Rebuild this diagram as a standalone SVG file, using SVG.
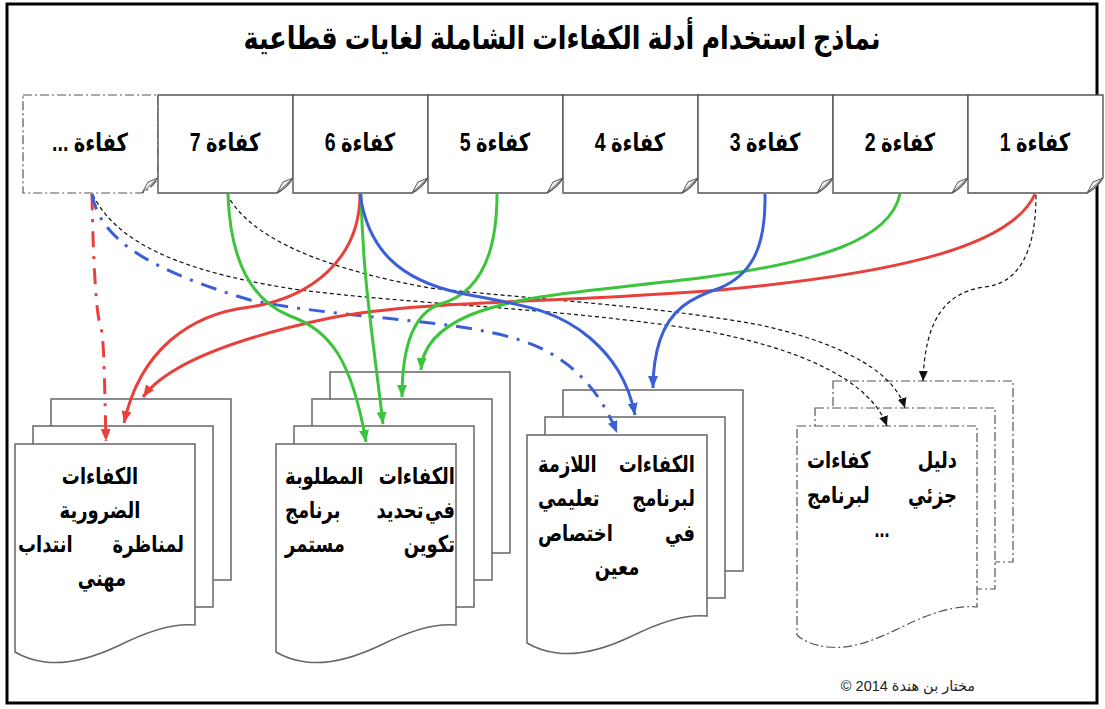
<svg xmlns="http://www.w3.org/2000/svg" width="1105" height="709" viewBox="0 0 1105 709">
<style>
.ar{font-family:"Liberation Sans","DejaVu Sans",sans-serif;font-weight:bold;fill:#000}
.rtl{direction:rtl;unicode-bidi:embed}
.card{fill:#fff;stroke:#555;stroke-width:1.4}
.cardd{fill:#fff;stroke:#555;stroke-width:1.2;stroke-dasharray:9 3 2 3}
.flap{fill:#f2f2f2;stroke:#555;stroke-width:1}
.page{fill:#fff;stroke:#666;stroke-width:1.5}
.paged{fill:#fff;stroke:#555;stroke-width:1.2;stroke-dasharray:9 3 2 3}
.ctxt{font-size:25px}
.dtxt{font-size:23px}
.c{fill:none;stroke-width:3}
.red{stroke:#e8413c}
.grn{stroke:#3cc43c}
.blu{stroke:#3b5fd6}
.blk{fill:none;stroke:#111;stroke-width:1.2;stroke-dasharray:4 3}
.dd{stroke-dasharray:16 9 3 9}
</style>
<defs>
<marker id="ar" markerUnits="userSpaceOnUse" markerWidth="12" markerHeight="10" refX="12" refY="5" orient="auto"><path d="M0,0 L12,5 L0,10 Z" fill="#e8413c"/></marker>
<marker id="ag" markerUnits="userSpaceOnUse" markerWidth="12" markerHeight="10" refX="12" refY="5" orient="auto"><path d="M0,0 L12,5 L0,10 Z" fill="#3cc43c"/></marker>
<marker id="ab" markerUnits="userSpaceOnUse" markerWidth="12" markerHeight="10" refX="12" refY="5" orient="auto"><path d="M0,0 L12,5 L0,10 Z" fill="#3b5fd6"/></marker>
<marker id="ak" markerUnits="userSpaceOnUse" markerWidth="10" markerHeight="9" refX="10" refY="4.5" orient="auto"><path d="M0,0 L10,4.5 L0,9 Z" fill="#111"/></marker>
</defs>
<rect x="0" y="0" width="1105" height="709" fill="#fff"/>
<rect x="7" y="4" width="1090" height="699" fill="#fff" stroke="#000" stroke-width="3"/>
<text id="title" class="ar rtl" x="562" y="49" font-size="32" text-anchor="middle" textLength="637" lengthAdjust="spacingAndGlyphs">نماذج استخدام أدلة الكفاءات الشاملة لغايات قطاعية</text>

<g id="card-etc">
<path class="cardd" d="M23,95 H158 V178 Q152,188 142,193 H23 Z"/>
<path class="flap" d="M142,193 L148,182 L158,178 Z"/>
<text class="ar rtl ctxt" transform="scale(0.78,1)" x="115.4" y="151" text-anchor="middle">كفاءة ...</text>
</g>
<g id="card-7">
<path class="card" d="M158,95 H293 V178 Q287,188 277,193 H158 Z"/>
<path class="flap" d="M277,193 L283,182 L293,178 Z"/>
<text class="ar rtl ctxt" transform="scale(0.78,1)" x="288.5" y="151" text-anchor="middle">كفاءة 7</text>
</g>
<g id="card-6">
<path class="card" d="M293,95 H428 V178 Q422,188 412,193 H293 Z"/>
<path class="flap" d="M412,193 L418,182 L428,178 Z"/>
<text class="ar rtl ctxt" transform="scale(0.78,1)" x="461.5" y="151" text-anchor="middle">كفاءة 6</text>
</g>
<g id="card-5">
<path class="card" d="M428,95 H563 V178 Q557,188 547,193 H428 Z"/>
<path class="flap" d="M547,193 L553,182 L563,178 Z"/>
<text class="ar rtl ctxt" transform="scale(0.78,1)" x="634.6" y="151" text-anchor="middle">كفاءة 5</text>
</g>
<g id="card-4">
<path class="card" d="M563,95 H698 V178 Q692,188 682,193 H563 Z"/>
<path class="flap" d="M682,193 L688,182 L698,178 Z"/>
<text class="ar rtl ctxt" transform="scale(0.78,1)" x="807.7" y="151" text-anchor="middle">كفاءة 4</text>
</g>
<g id="card-3">
<path class="card" d="M698,95 H833 V178 Q827,188 817,193 H698 Z"/>
<path class="flap" d="M817,193 L823,182 L833,178 Z"/>
<text class="ar rtl ctxt" transform="scale(0.78,1)" x="980.8" y="151" text-anchor="middle">كفاءة 3</text>
</g>
<g id="card-2">
<path class="card" d="M833,95 H968 V178 Q962,188 952,193 H833 Z"/>
<path class="flap" d="M952,193 L958,182 L968,178 Z"/>
<text class="ar rtl ctxt" transform="scale(0.78,1)" x="1153.8" y="151" text-anchor="middle">كفاءة 2</text>
</g>
<g id="card-1">
<path class="card" d="M968,95 H1103 V178 Q1097,188 1087,193 H968 Z"/>
<path class="flap" d="M1087,193 L1093,182 L1103,178 Z"/>
<text class="ar rtl ctxt" transform="scale(0.78,1)" x="1326.9" y="151" text-anchor="middle">كفاءة 1</text>
</g>

<g id="doc-1">
<rect class="page" x="51" y="399" width="180" height="181"/>
<rect class="page" x="33" y="426" width="180" height="181"/>
<path class="page" d="M15,444 H195 V625 C175,623 150,630 120,645 C95,657 70,665 45,662 C30,660 20,655 15,652 Z"/>
<g transform="scale(0.78,1)">
<text class="ar dtxt" x="128.2" y="484" text-anchor="middle">الكفاءات</text>
<text class="ar dtxt" x="128.2" y="518" text-anchor="middle">الضرورية</text>
<text class="ar dtxt" x="235.9" y="552" text-anchor="end">لمناظرة</text>
<text class="ar dtxt" x="23.1" y="552" text-anchor="start">انتداب</text>
<text class="ar dtxt" x="130.8" y="586" text-anchor="middle">مهني</text>
</g>
</g>
<g id="doc-2">
<rect class="page" x="330" y="372" width="180" height="181"/>
<rect class="page" x="312" y="399" width="180" height="181"/>
<rect class="page" x="294" y="426" width="180" height="181"/>
<path class="page" d="M276,444 H456 V625 C436,623 411,630 381,645 C356,657 331,665 306,662 C291,660 281,655 276,652 Z"/>
<g transform="scale(0.78,1)">
<text class="ar dtxt" x="583.3" y="484" text-anchor="end">الكفاءات</text>
<text class="ar dtxt" x="365.4" y="484" text-anchor="start">المطلوبة</text>
<text class="ar dtxt" x="583.3" y="518" text-anchor="end">في</text>
<text class="ar dtxt" x="512.8" y="518" text-anchor="middle">تحديد</text>
<text class="ar dtxt" x="365.4" y="518" text-anchor="start">برنامج</text>
<text class="ar dtxt" x="583.3" y="552" text-anchor="end">تكوين</text>
<text class="ar dtxt" x="365.4" y="552" text-anchor="start">مستمر</text>
</g>
</g>
<g id="doc-3">
<rect class="page" x="563" y="390" width="180" height="181"/>
<rect class="page" x="545" y="417" width="180" height="181"/>
<path class="page" d="M527,435 H707 V616 C687,614 662,621 632,636 C607,648 582,656 557,653 C542,651 532,646 527,643 Z"/>
<g transform="scale(0.78,1)">
<text class="ar dtxt" x="891" y="472" text-anchor="end">الكفاءات</text>
<text class="ar dtxt" x="689.7" y="472" text-anchor="start">اللازمة</text>
<text class="ar dtxt" x="891" y="506" text-anchor="end">لبرنامج</text>
<text class="ar dtxt" x="689.7" y="506" text-anchor="start">تعليمي</text>
<text class="ar dtxt" x="891" y="541" text-anchor="end">في</text>
<text class="ar dtxt" x="689.7" y="541" text-anchor="start">اختصاص</text>
<text class="ar dtxt" x="791" y="575" text-anchor="middle">معين</text>
</g>
</g>
<g id="doc-4">
<rect class="paged" x="833" y="381" width="180" height="181"/>
<rect class="paged" x="815" y="408" width="180" height="181"/>
<path class="paged" d="M797,426 H977 V607 C957,605 932,612 902,627 C877,639 852,650 827,647 C812,645 802,640 797,635 Z"/>
<g transform="scale(0.78,1)">
<text class="ar dtxt" x="1226.9" y="468" text-anchor="end">دليل</text>
<text class="ar dtxt" x="1034.6" y="468" text-anchor="start">كفاءات</text>
<text class="ar dtxt" x="1226.9" y="503" text-anchor="end">جزئي</text>
<text class="ar dtxt" x="1034.6" y="503" text-anchor="start">لبرنامج</text>
<text class="ar dtxt" x="1130.8" y="537" text-anchor="middle">...</text>
</g>
</g>
<text id="copyright" class="rtl" x="908" y="691" font-family="Liberation Sans, DejaVu Sans, sans-serif" font-size="14.5" fill="#222" text-anchor="middle">مختار بن هندة 2014 ©</text>

<g id="connectors">
<path class="blk" d="M93,195 C120,250 200,275 300,290 C420,305 560,308 700,330 C800,348 870,380 887,426" marker-end="url(#ak)"/>
<path class="blk" d="M227,194 C250,240 330,270 430,288 C540,300 650,305 760,325 C850,345 895,375 905,408" marker-end="url(#ak)"/>
<path class="blk" d="M1036,195 C1036,250 1020,283 985,287 C945,292 925,320 923,381" marker-end="url(#ak)"/>
<path class="c red dd" d="M92,194 C93,260 96,305 99,320 C104,332 104,360 106,441" marker-end="url(#ar)"/>
<path class="c blu dd" d="M92,194 C100,240 150,270 250,300 C350,320 450,318 520,340 C570,356 600,390 617,433" marker-end="url(#ab)"/>
<path class="c red" d="M360,194 C360,260 310,298 250,307 C190,314 140,350 124,423" marker-end="url(#ar)"/>
<path class="c red" d="M1035,194 C1010,250 880,275 720,290 C560,303 420,300 330,318 C250,335 170,360 143,397" marker-end="url(#ar)"/>
<path class="c grn" d="M228,194 C230,260 250,300 290,316 C330,330 352,360 366,442" marker-end="url(#ag)"/>
<path class="c grn" d="M361,194 C363,280 372,330 383,424" marker-end="url(#ag)"/>
<path class="c grn" d="M497,194 C497,270 470,296 440,304 C412,314 402,350 402,397" marker-end="url(#ag)"/>
<path class="c grn" d="M900,194 C890,240 820,262 700,278 C580,292 520,295 470,315 C435,330 422,350 421,370" marker-end="url(#ag)"/>
<path class="c blu" d="M360,194 C368,250 400,280 460,293 C520,305 555,308 590,338 C612,357 628,380 635,415" marker-end="url(#ab)"/>
<path class="c blu" d="M765,194 C766,250 750,275 720,288 C690,298 670,310 660,340 C655,355 653,370 653,388" marker-end="url(#ab)"/>
</g>
</svg>
